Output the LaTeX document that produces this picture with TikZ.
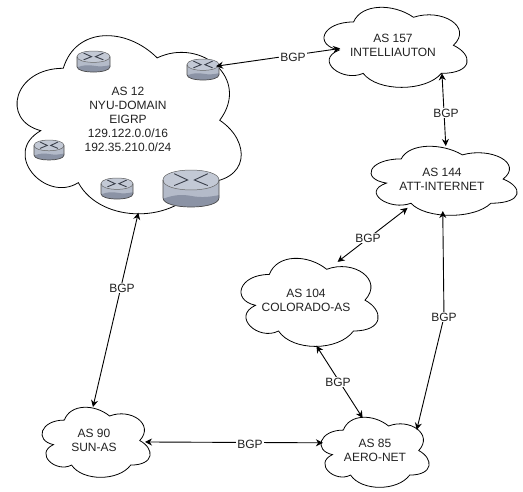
\documentclass[tikz,border=0pt]{standalone}
\usepackage{fontspec}
\setmainfont{Liberation Sans}
\usetikzlibrary{arrows.meta,shapes.geometric,calc}
\definecolor{rtop}{HTML}{C3C9D5}
\definecolor{rside}{HTML}{B4BBC9}
\definecolor{rlow}{HTML}{8B93A5}
\definecolor{rmark}{HTML}{3A3F4A}
\definecolor{txtc}{HTML}{222222}
\tikzset{
  cloudtext/.style={align=center,text=txtc,font=\fontsize{12}{14}\selectfont,inner sep=0pt},
  bgplabel/.style={fill=white,text=txtc,font=\fontsize{12}{14}\selectfont,inner sep=1pt},
  link/.style={draw=black,line width=0.9pt,{Stealth[length=7pt,width=7pt]}-{Stealth[length=7pt,width=7pt]}},
  cloudline/.style={draw=black,line width=0.8pt,fill=white},
  routerbox/.style={rectangle,inner sep=0pt,outer sep=0pt}
}
% #1 name, #2 left, #3 top, #4 right, #5 bottom (visible extent), #6 text x, #7 text y, #8 text
\newcommand{\ascloud}[8]{%
  \pgfmathsetmacro{\cw}{(#4-#2)/0.895}%
  \pgfmathsetmacro{\ch}{(#5-#3)/0.856}%
  \pgfmathsetmacro{\cx}{#2-0.065*\cw}%
  \pgfmathsetmacro{\cy}{#3-0.09*\ch}%
  \begin{scope}[shift={(\cx,\cy)},x=\cw pt,y=-\ch pt]
    \path[cloudline] (0.25,0.25)
      .. controls (0.05,0.25) and (0,0.5) .. (0.16,0.55)
      .. controls (0,0.66) and (0.18,0.9) .. (0.31,0.8)
      .. controls (0.4,1) and (0.7,1) .. (0.8,0.8)
      .. controls (1,0.8) and (1,0.6) .. (0.875,0.5)
      .. controls (1,0.3) and (0.8,0.1) .. (0.625,0.2)
      .. controls (0.5,0.05) and (0.3,0.05) .. (0.25,0.25) -- cycle;
  \end{scope}
  \pgfmathsetmacro{\mw}{#4-#2}%
  \pgfmathsetmacro{\mh}{#5-#3}%
  \node[ellipse,inner sep=0pt,outer sep=0pt,minimum width=\mw pt,minimum height=\mh pt] (#1) at ({(#2+#4)/2},{(#3+#5)/2}) {};
  \node[cloudtext] (#1text) at (#6,#7) {#8};
}
% #1 name, #2 left, #3 top, #4 right, #5 bottom
\newcommand{\routericon}[5]{%
  \pgfmathsetmacro{\rw}{#4-#2}%
  \pgfmathsetmacro{\rh}{#5-#3}%
  \node[routerbox,minimum width=\rw pt,minimum height=\rh pt] (#1) at ({(#2+#4)/2},{(#3+#5)/2}) {};
  \begin{scope}[shift={(#2,#3)},x=\rw pt,y=-\rh pt]
    \path[fill=rside] (0,0.27)
      .. controls (0,0.09) and (0.25,0) .. (0.5,0)
      .. controls (0.75,0) and (1,0.09) .. (1,0.27) -- (1,0.75)
      .. controls (1,0.92) and (0.75,1) .. (0.5,1)
      .. controls (0.25,1) and (0,0.92) .. (0,0.75) -- cycle;
    \path[fill=rlow] (0,0.78)
      .. controls (0.2,0.66) and (0.35,0.66) .. (0.5,0.7)
      .. controls (0.7,0.76) and (0.85,0.72) .. (1,0.68) -- (1,0.75)
      .. controls (1,0.92) and (0.75,1) .. (0.5,1)
      .. controls (0.25,1) and (0,0.92) .. (0,0.75) -- cycle;
    \path[fill=rtop,draw=black!60,line width=0.5pt] (0,0.27)
      .. controls (0,0.09) and (0.25,0) .. (0.5,0)
      .. controls (0.75,0) and (1,0.09) .. (1,0.27)
      .. controls (1,0.45) and (0.75,0.54) .. (0.5,0.54)
      .. controls (0.25,0.54) and (0,0.45) .. (0,0.27) -- cycle;
    \path[draw=black!70,line width=0.7pt] (1,0.27) -- (1,0.75)
      .. controls (1,0.92) and (0.75,1) .. (0.5,1)
      .. controls (0.25,1) and (0,0.92) .. (0,0.75) -- (0,0.27);
    \path[draw=rmark,line width=0.9pt] (0.2,0.1) -- (0.44,0.27) -- (0.2,0.42)
      (0.8,0.1) -- (0.56,0.27) -- (0.8,0.42);
  \end{scope}
}
\begin{document}
\begin{tikzpicture}[x=1pt,y=-1pt]
\useasboundingbox (0,0) rectangle (523,491);
\fill[white] (0,0) rectangle (523,491);
\ascloud{as12}{17}{35}{241}{213}{128}{119}{AS 12\\NYU-DOMAIN\\EIGRP\\129.122.0.0/16\\192.35.210.0/24}
\ascloud{as157}{324}{7}{467}{87}{393}{45.5}{AS 157\\INTELLIAUTON}
\ascloud{as144}{371}{146}{517}{215}{442}{179}{AS 144\\ATT-INTERNET}
\ascloud{as104}{241}{258}{378}{346}{306}{300.5}{AS 104\\COLORADO-AS}
\ascloud{as90}{42}{407}{150}{477}{94}{440}{AS 90\\SUN-AS}
\ascloud{as85}{321}{417}{429}{487}{375}{450.5}{AS 85\\AERO-NET}
\routericon{r1}{77}{51}{110}{72}
\routericon{r2}{187}{59}{219}{80}
\routericon{r3}{34}{140}{64}{160}
\routericon{r4}{101}{178}{133}{199}
\routericon{r5}{163}{170}{219}{207}
\coordinate (bendpoint) at (444,317);
\draw[link,shorten <=-3pt,shorten >=-16pt] (r2.13) -- (as157.183);
\draw[link,shorten <=-4pt] (as157.-33.7) -- (as144.87);
\draw[link,shorten <=-3pt] (as144.217.5) -- (as104.55.8);
\draw[link,shorten <=-4pt] (as144.268.5) -- (bendpoint) -- (as85.28);
\draw[link] (as104.-81.6) -- (as85.110);
\draw[link,shorten <=-5pt] (as90.0) -- (as85.170);
\draw[link] (as12.-84) -- (as90.95);
\node[bgplabel] (l1) at (293,57) {BGP};
\node[bgplabel] (l2) at (446,113) {BGP};
\node[bgplabel] (l3) at (368,238) {BGP};
\node[bgplabel] (l4) at (444,317) {BGP};
\node[bgplabel] (l5) at (338,382) {BGP};
\node[bgplabel] (l6) at (250,444) {BGP};
\node[bgplabel] (l7) at (122,288) {BGP};
\end{tikzpicture}
\end{document}
